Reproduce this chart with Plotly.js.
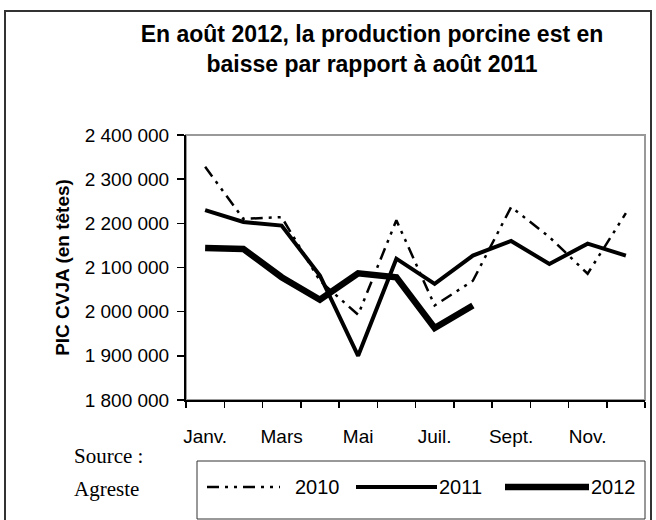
<!DOCTYPE html>
<html>
<head>
<meta charset="utf-8">
<script src="https://cdn.plot.ly/plotly-3.0.1.min.js"></script>
<style>
  body { margin: 0; background: #fff; }
  #chart { width: 656px; height: 520px; }
</style>
</head>
<body>
<div id="chart"></div>
<script>
// months (x positions 1..12) and tick labels
const months = [1, 2, 3, 4, 5, 6, 7, 8, 9, 10, 11, 12];
const tickMonths = [1, 3, 5, 7, 9, 11];
const tickLabels = ["Janv.", "Mars", "Mai", "Juil.", "Sept.", "Nov."];

// PIC CVJA (en têtes)
const prod2010 = [2328000, 2210000, 2214000, 2070000, 1993000, 2207000, 2014000, 2070000, 2237000, 2169000, 2086000, 2223000];
const prod2011 = [2230000, 2203000, 2195000, 2082000, 1900000, 2120000, 2063000, 2127000, 2160000, 2108000, 2154000, 2127000];
const prod2012 = [2144000, 2142000, 2078000, 2027000, 2087000, 2078000, 1963000, 2014000];

const years = ["2010", "2011", "2012"];

// plot area in pixels
const L = 186, R = 645, T = 135, B = 400, W = 656, H = 520;
const px = (x) => (x - L) / (R - L);
const py = (y) => (B - y) / (B - T);

const font = "Liberation Sans, Arial, sans-serif";
const serif = "Liberation Serif, Times New Roman, serif";
const dash2010 = "12px,6px,3px,6px,3px,6px";

const traces = [
  { x: months, y: prod2010, name: years[0], type: "scatter", mode: "lines",
    line: { color: "#000", width: 2.5, dash: dash2010 } },
  { x: months, y: prod2011, name: years[1], type: "scatter", mode: "lines",
    line: { color: "#000", width: 4 } },
  { x: months.slice(0, prod2012.length), y: prod2012, name: years[2], type: "scatter", mode: "lines",
    line: { color: "#000", width: 6.5 } },
];

// hand-made legend, like the original one (long samples, boxed)
const legendY = 487;
const samples = [
  { x0: 207, x1: 280, w: 2.5, dash: dash2010, tx: 293 },
  { x0: 356, x1: 437, w: 4, dash: "solid", tx: 437 },
  { x0: 505, x1: 589, w: 6.5, dash: "solid", tx: 589 },
];

const shapes = [
  // outer frame
  { type: "rect", xref: "paper", yref: "paper", x0: px(5), x1: px(651), y0: py(540), y1: py(11),
    line: { color: "#333", width: 2 } },
  // grey plot frame (top / right)
  { type: "rect", xref: "paper", yref: "paper", x0: 0, x1: 1, y0: 0, y1: 1, layer: "below",
    line: { color: "#999", width: 2 } },
  // legend box
  { type: "rect", xref: "paper", yref: "paper", x0: px(197), x1: px(645), y0: py(519), y1: py(461),
    line: { color: "#333", width: 1 } },
];
const annotations = [
  { text: "Source :", xref: "paper", yref: "paper", x: px(72), y: py(456), xanchor: "left", yanchor: "middle",
    showarrow: false, font: { family: serif, size: 21, color: "#000" } },
  { text: "Agreste", xref: "paper", yref: "paper", x: px(72), y: py(489), xanchor: "left", yanchor: "middle",
    showarrow: false, font: { family: serif, size: 21, color: "#000" } },
];
samples.forEach((s, i) => {
  shapes.push({ type: "line", xref: "paper", yref: "paper", x0: px(s.x0), x1: px(s.x1), y0: py(legendY), y1: py(legendY),
    line: { color: "#000", width: s.w, dash: s.dash } });
  annotations.push({ text: years[i], xref: "paper", yref: "paper", x: px(s.tx), y: py(legendY),
    xanchor: "left", yanchor: "middle", showarrow: false, font: { family: font, size: 20, color: "#000" } });
});

const layout = {
  width: W, height: H,
  margin: { l: L, r: W - R, t: T, b: H - B, pad: 0 },
  paper_bgcolor: "#fff", plot_bgcolor: "#fff",
  font: { family: font, size: 19, color: "#000" },
  separators: ", ",
  showlegend: false,
  title: {
    text: "En août 2012, la production porcine est en<br>baisse par rapport à août 2011",
    x: 372 / W, xanchor: "center", y: 1 - 42 / H, yanchor: "middle",
    font: { family: font, size: 23, color: "#000", weight: "bold" },
  },
  xaxis: {
    range: [0.5, 12.5], tickmode: "array", tickvals: tickMonths, ticktext: tickLabels,
    ticks: "outside", ticklen: 0, ticklabelstandoff: 18,
    minor: { tickmode: "array", tickvals: months.map((m) => m - 0.5).concat([12.5]), ticks: "outside", ticklen: 6, tickcolor: "#000", tickwidth: 1.5 },
    showline: true, linecolor: "#000", linewidth: 2, showgrid: false, zeroline: false,
  },
  yaxis: {
    range: [1800000, 2400000], dtick: 100000, tickformat: ",d",
    ticks: "outside", ticklen: 7, tickcolor: "#000", tickwidth: 1.5, ticklabelstandoff: 4,
    showline: true, linecolor: "#000", linewidth: 2, showgrid: false, zeroline: false,
    title: { text: "PIC CVJA (en têtes)", standoff: 10, font: { family: font, size: 19, weight: "bold" } },
  },
  shapes: shapes,
  annotations: annotations,
};

Plotly.newPlot("chart", traces, layout, { staticPlot: true });
</script>
</body>
</html>
